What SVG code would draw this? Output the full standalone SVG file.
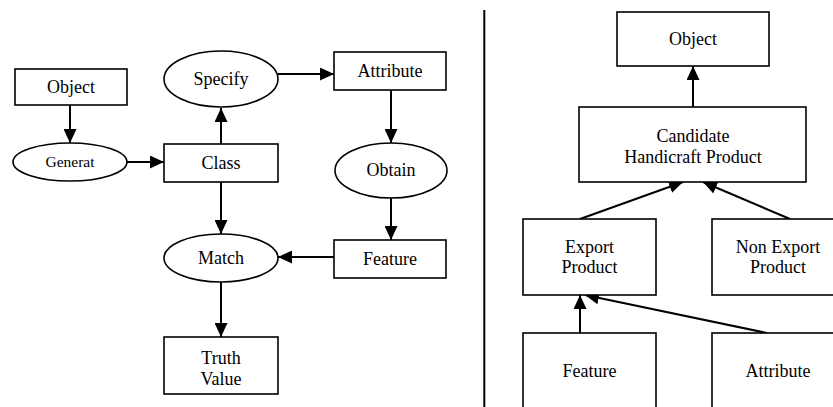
<svg xmlns="http://www.w3.org/2000/svg" width="833" height="407" viewBox="0 0 833 407">
<style>
.box{fill:#fff;stroke:#000;stroke-width:1.6}
.t{font-family:'Liberation Serif',Tinos,'Times New Roman','DejaVu Serif',serif;font-size:18px;fill:#000;text-anchor:middle}
.s{font-size:15.5px}
.c line{stroke:#000;stroke-width:2;marker-end:url(#ah)}
</style>
<defs>
<marker id="ah" markerUnits="userSpaceOnUse" markerWidth="15" markerHeight="13" refX="14" refY="6.5" orient="auto">
<path d="M0,0 L14,6.5 L0,13 z" fill="#000"/>
</marker>
</defs>
<rect width="833" height="407" fill="#fff"/>
<line x1="484.3" y1="10" x2="484.3" y2="407" stroke="#000" stroke-width="2"/>
<g class="c">
<line x1="70" y1="105" x2="70" y2="143"/>
<line x1="127" y1="162" x2="164" y2="162"/>
<line x1="221" y1="144" x2="221" y2="108"/>
<line x1="278" y1="74" x2="334" y2="74"/>
<line x1="391" y1="90" x2="391" y2="143"/>
<line x1="391" y1="198" x2="391" y2="240"/>
<line x1="334" y1="257" x2="278" y2="257"/>
<line x1="221" y1="182" x2="221" y2="234"/>
<line x1="221" y1="282" x2="221" y2="337"/>
<line x1="693" y1="107" x2="693" y2="66"/>
<line x1="580" y1="219" x2="683" y2="182"/>
<line x1="790" y1="219" x2="703" y2="182"/>
<line x1="580" y1="333" x2="580" y2="295"/>
<line x1="767" y1="333" x2="585" y2="295"/>
</g>
<g id="object-left"><rect class="box" x="15" y="69" width="112" height="36"/><text class="t" x="71" y="93">Object</text></g>
<g id="generat"><ellipse class="box" cx="70" cy="162" rx="57" ry="19"/><text class="t s" x="70" y="167">Generat</text></g>
<g id="class"><rect class="box" x="164" y="144" width="114" height="38"/><text class="t" x="221" y="169">Class</text></g>
<g id="specify"><ellipse class="box" cx="221" cy="79" rx="57" ry="28"/><text class="t" x="221" y="85">Specify</text></g>
<g id="attribute-left"><rect class="box" x="334" y="52" width="112" height="38"/><text class="t" x="390" y="77">Attribute</text></g>
<g id="obtain"><ellipse class="box" cx="391" cy="170.5" rx="56" ry="27.5"/><text class="t" x="391" y="176">Obtain</text></g>
<g id="feature-left"><rect class="box" x="334" y="240" width="112" height="38"/><text class="t" x="390" y="265">Feature</text></g>
<g id="match"><ellipse class="box" cx="221" cy="258" rx="57" ry="24"/><text class="t" x="221" y="264">Match</text></g>
<g id="truth-value"><rect class="box" x="164" y="337" width="114" height="57"/><text class="t" x="221" y="364">Truth</text><text class="t" x="221" y="385">Value</text></g>
<g id="object-right"><rect class="box" x="617" y="12" width="152" height="54"/><text class="t" x="693" y="45">Object</text></g>
<g id="candidate"><rect class="box" x="579" y="107" width="227" height="75"/><text class="t" x="693" y="142">Candidate</text><text class="t" x="693" y="163">Handicraft Product</text></g>
<g id="export-product"><rect class="box" x="523" y="219" width="133" height="76"/><text class="t" x="589.5" y="253">Export</text><text class="t" x="589.5" y="273">Product</text></g>
<g id="non-export-product"><rect class="box" x="712" y="219" width="133" height="76"/><text class="t" x="778" y="253">Non Export</text><text class="t" x="778" y="273">Product</text></g>
<g id="feature-right"><rect class="box" x="523" y="333" width="133" height="90"/><text class="t" x="589.5" y="377">Feature</text></g>
<g id="attribute-right"><rect class="box" x="712" y="333" width="133" height="90"/><text class="t" x="778" y="377">Attribute</text></g>
</svg>
